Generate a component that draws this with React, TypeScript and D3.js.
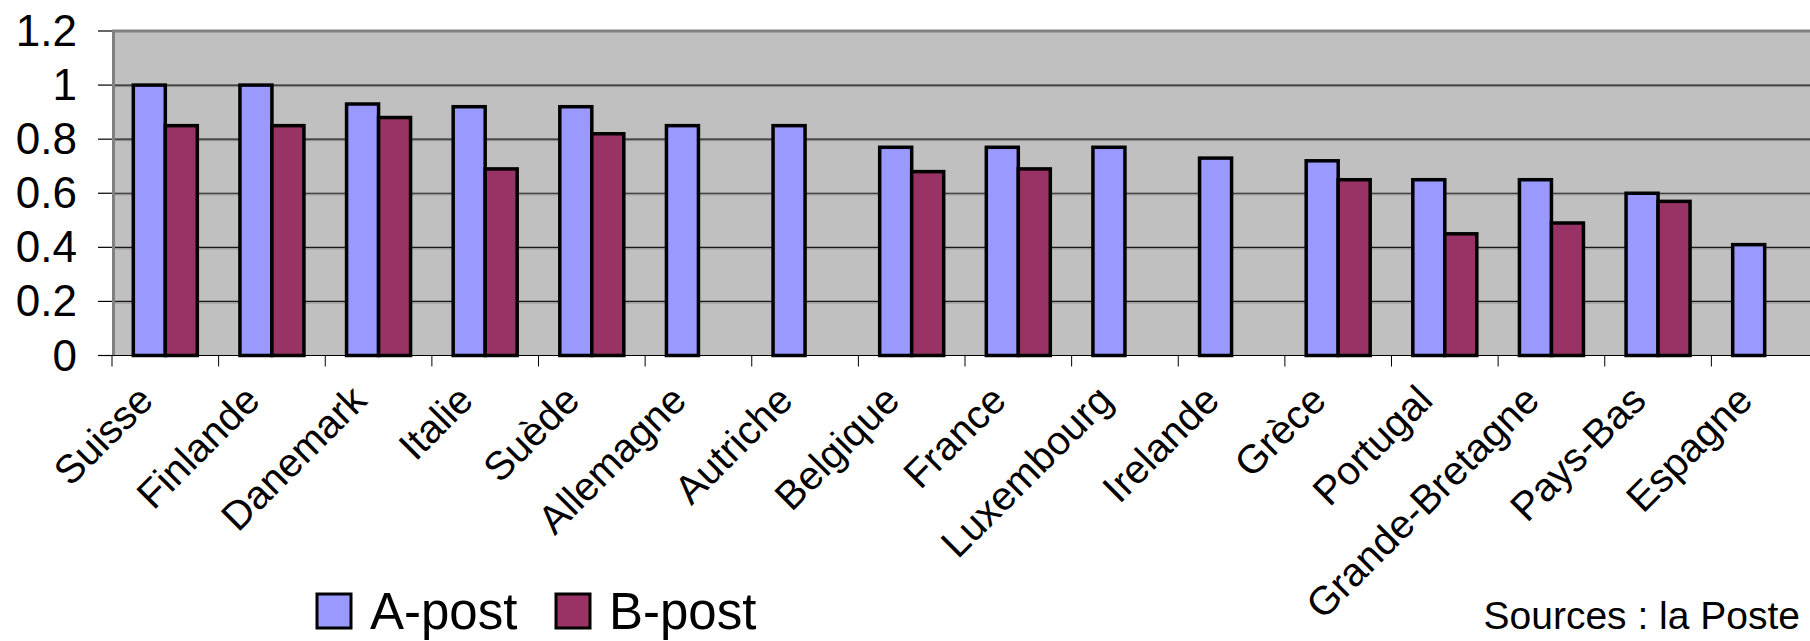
import { useEffect } from 'react';
import * as d3 from 'd3';

const W = 1810;
const H = 641;

const categories = [
  'Suisse', 'Finlande', 'Danemark', 'Italie', 'Suède', 'Allemagne', 'Autriche', 'Belgique',
  'France', 'Luxembourg', 'Irelande', 'Grèce', 'Portugal', 'Grande-Bretagne', 'Pays-Bas', 'Espagne',
];
const series = ['A-post', 'B-post'];
const colors = ['#9999ff', '#993366'];
const aPost = [1.0, 1.0, 0.93, 0.92, 0.92, 0.85, 0.85, 0.77, 0.77, 0.77, 0.73, 0.72, 0.65, 0.65, 0.6, 0.41];
const bPost: (number | null)[] = [0.85, 0.85, 0.88, 0.69, 0.82, null, null, 0.68, 0.69, null, null, 0.65, 0.45, 0.49, 0.57, null];
const yTicks = [0, 0.2, 0.4, 0.6, 0.8, 1, 1.2];
const source = 'Sources : la Poste';

const FONT = '"Liberation Sans", Arial, sans-serif';

// plot box (it runs a little past the right edge, like the original)
const LEFT = 112;
const RIGHT = 1818;
const TOP = 31;
const BOTTOM = 355.5;

export default function App() {
  useEffect(() => {
    document.body.style.margin = '0';
  }, []);

  const x = d3.scaleBand<string>().domain(categories).range([LEFT, RIGHT]);
  const inner = d3.scaleBand<string>().domain(series).range([0, x.bandwidth()]).paddingOuter(0.666);
  const y = d3.scaleLinear().domain([0, 1.2]).range([BOTTOM, TOP]);

  const values = [aPost, bPost];

  return (
    <svg width={W} height={H} style={{ display: 'block', background: '#fff' }} fontFamily={FONT}>
      <rect x={LEFT} y={TOP} width={RIGHT - LEFT} height={BOTTOM - TOP} fill="#c0c0c0" />

      {/* gridlines */}
      {yTicks
        .filter((t) => t > 0 && t < 1.2)
        .map((t) => (
          <g key={t}>
            <line x1={LEFT} x2={RIGHT} y1={y(t)} y2={y(t)} stroke="#1a1a1a" strokeWidth={1.2} />
            <line x1={LEFT} x2={RIGHT} y1={y(t) + 1.5} y2={y(t) + 1.5} stroke="#8a8a8a" strokeWidth={1} />
          </g>
        ))}

      {/* borders */}
      <line x1={LEFT} x2={RIGHT} y1={TOP} y2={TOP} stroke="#808080" strokeWidth={3} />
      <line x1={LEFT + 1.5} x2={LEFT + 1.5} y1={TOP} y2={BOTTOM} stroke="#808080" strokeWidth={3} />

      {/* bars */}
      {series.map((s, si) =>
        categories.map((c, ci) => {
          const v = values[si][ci];
          if (v == null) return null;
          return (
            <rect
              key={s + c}
              x={(x(c) as number) + (inner(s) as number)}
              y={y(v)}
              width={inner.bandwidth()}
              height={y(0) - y(v)}
              fill={colors[si]}
              stroke="#000"
              strokeWidth={3.5}
            />
          );
        }),
      )}

      {/* x axis */}
      <line x1={98} x2={RIGHT} y1={BOTTOM} y2={BOTTOM} stroke="#000" strokeWidth={1.2} />
      {categories.map((c) => (
        <line key={c} x1={x(c)} x2={x(c)} y1={BOTTOM} y2={BOTTOM + 11} stroke="#000" strokeWidth={1} />
      ))}
      {categories.map((c) => {
        const cx = (x(c) as number) + x.bandwidth() / 2 - 10;
        return (
          <text
            key={c}
            transform={`translate(${cx},${BOTTOM + 47}) rotate(-45)`}
            textAnchor="end"
            fontSize={40}
            fill="#000"
          >
            {c}
          </text>
        );
      })}

      {/* y axis */}
      {yTicks.map((t) => (
        <g key={t}>
          <line x1={98} x2={LEFT} y1={y(t)} y2={y(t)} stroke="#000" strokeWidth={1.2} />
          <text x={77} y={y(t) + 15} textAnchor="end" fontSize={44} fill="#000">
            {d3.format('~g')(t)}
          </text>
        </g>
      ))}

      {/* legend */}
      {series.map((s, i) => {
        const lx = [317, 556][i];
        return (
          <g key={s}>
            <rect x={lx} y={594} width={34} height={34} fill={colors[i]} stroke="#000" strokeWidth={3} />
            <text x={lx + 53} y={629} fontSize={51} fill="#000">
              {s}
            </text>
          </g>
        );
      })}

      <text x={1800} y={629} textAnchor="end" fontSize={39} fill="#000">
        {source}
      </text>
    </svg>
  );
}
